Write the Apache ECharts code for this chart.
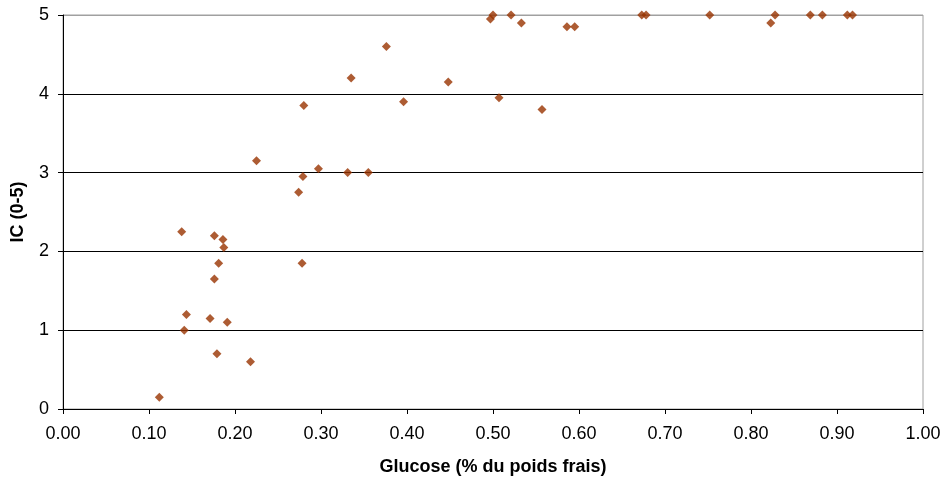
<!DOCTYPE html>
<html>
<head>
<meta charset="utf-8">
<script src="https://cdn.jsdelivr.net/npm/echarts@6/dist/echarts.min.js"></script>
<style>html,body{margin:0;padding:0;background:#fff}#c{width:946px;height:484px}</style>
</head>
<body>
<div id="c"></div>
<script>
var glucose = [0.112,0.138,0.141,0.1435,0.171,0.176,0.176,0.179,0.181,0.186,0.187,0.191,0.218,0.225,0.274,0.278,0.279,0.280,0.297,0.331,0.335,0.355,0.376,0.396,0.448,0.497,0.500,0.507,0.521,0.533,0.557,0.586,0.595,0.673,0.678,0.752,0.823,0.828,0.869,0.883,0.912,0.918];
var ic = [0.15,2.25,1.00,1.20,1.15,2.20,1.65,0.70,1.85,2.15,2.05,1.10,0.60,3.15,2.75,1.85,2.95,3.85,3.05,3.00,4.20,3.00,4.60,3.90,4.15,4.95,5.00,3.95,5.00,4.90,3.80,4.85,4.85,5.00,5.00,5.00,4.90,5.00,5.00,5.00,5.00,5.00];
var xAxisTitle = 'Glucose (% du poids frais)';
var yAxisTitle = 'IC (0-5)';

var points = glucose.map(function(g, i){ return [g, ic[i]]; });
var FONT = '"Liberation Sans", Arial, sans-serif';
var chart = echarts.init(document.getElementById('c'), null, {renderer:'canvas'});
chart.setOption({
  animation: false,
  backgroundColor: '#fff',
  grid: {left: 63, right: 23, top: 15, bottom: 75, show: true, borderColor: '#a0a0a0', borderWidth: 1},
  xAxis: {
    type: 'value', min: 0, max: 1, interval: 0.1,
    name: xAxisTitle, nameLocation: 'middle', nameGap: 49,
    nameTextStyle: {fontFamily: FONT, fontWeight: 'bold', fontSize: 18, color: '#000'},
    axisLine: {show: true, lineStyle: {color: '#000', width: 1}},
    axisTick: {show: true, inside: false, length: 5, lineStyle: {color: '#000'}},
    axisLabel: {fontFamily: FONT, fontSize: 18, color: '#000', margin: 16, formatter: function(v){ return v.toFixed(2); }},
    splitLine: {show: false}
  },
  yAxis: {
    type: 'value', min: 0, max: 5, interval: 1,
    name: yAxisTitle, nameLocation: 'middle', nameGap: 36, nameRotate: 90,
    nameTextStyle: {fontFamily: FONT, fontWeight: 'bold', fontSize: 18, color: '#000'},
    axisLine: {show: true, lineStyle: {color: '#000', width: 1}},
    axisTick: {show: true, inside: false, length: 5, lineStyle: {color: '#000'}},
    axisLabel: {fontFamily: FONT, fontSize: 18, color: '#000', margin: 14},
    splitLine: {show: true, lineStyle: {color: ['#000','#000','#000','#000','#000','#a0a0a0'], width: 1}}
  },
  series: [{
    type: 'scatter', data: points, symbol: 'diamond', symbolSize: 9, clip: false,
    itemStyle: {color: '#993300'}
  }]
});
</script>
</body>
</html>
